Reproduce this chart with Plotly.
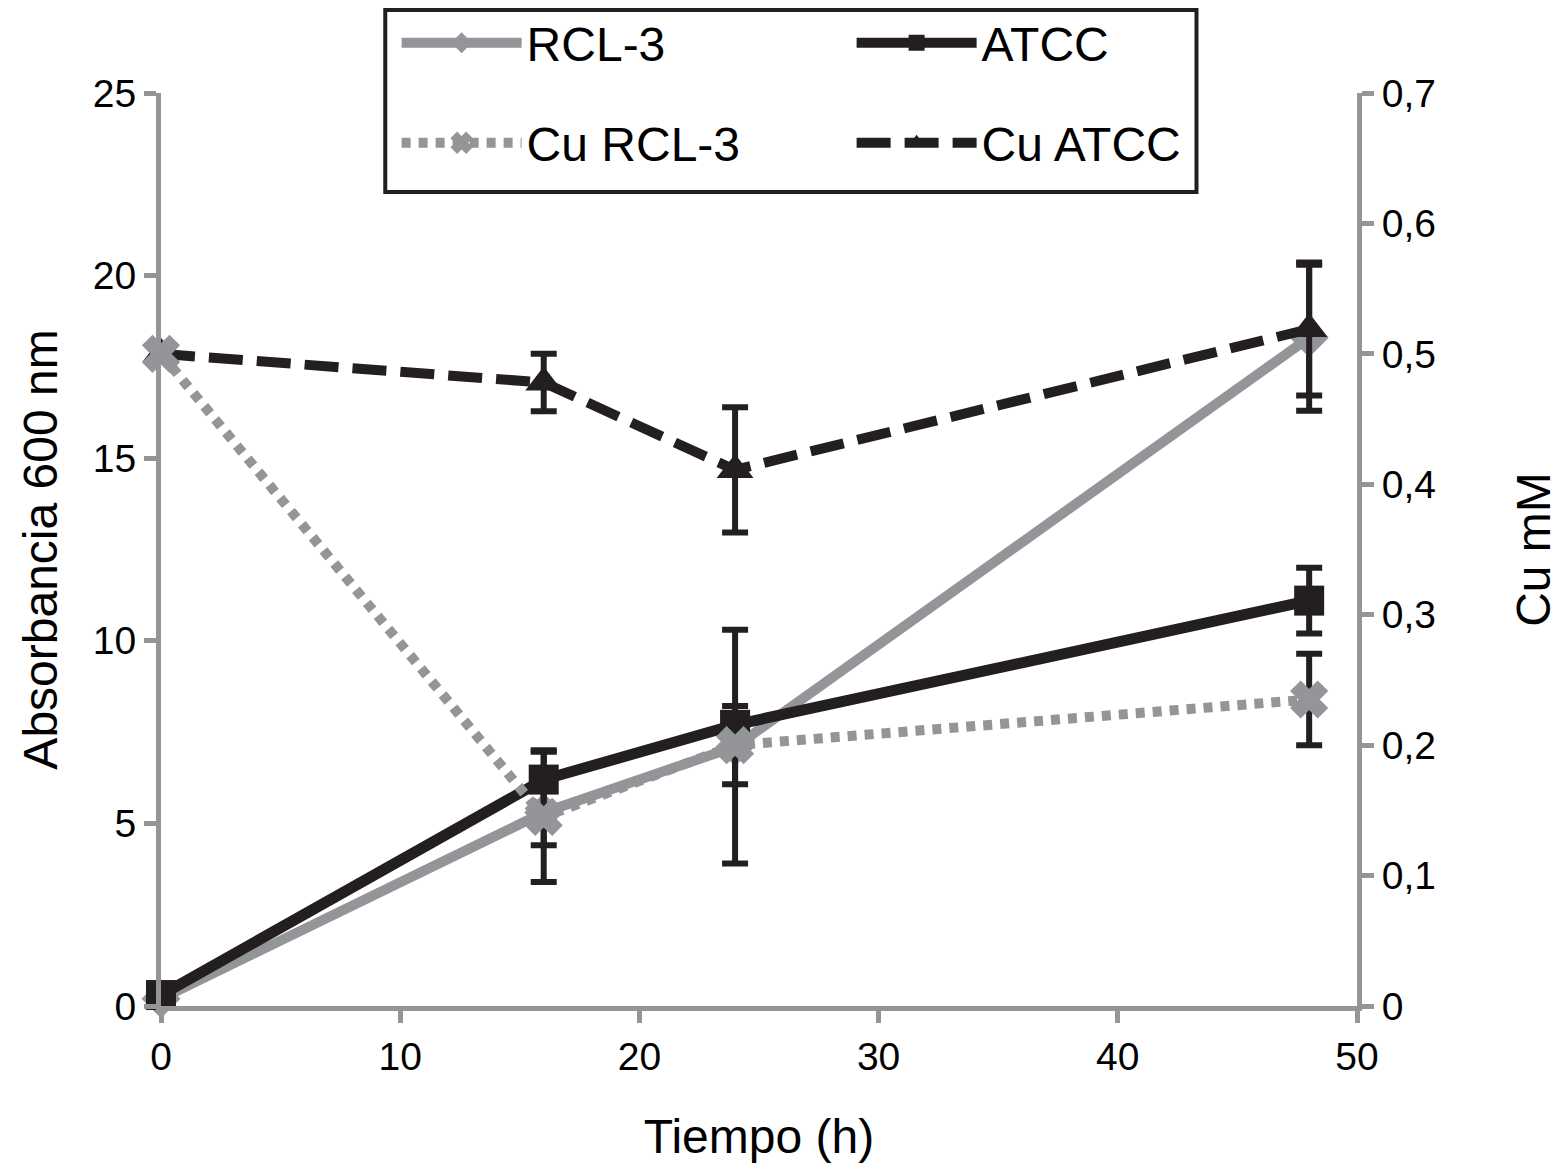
import plotly.graph_objects as go

# tiempo (h)
tiempo = [0, 16, 24, 48]

# absorbancia 600 nm
rcl3 = [0.2, 5.3, 7.1, 18.3]
rcl3_err = [0.0, 0.9, 3.2, 2.0]
atcc = [0.3, 6.2, 7.7, 11.1]
atcc_err = [0.0, 0.8, 0.15, 0.9]

# Cu mM
cu_rcl3 = [0.50, 0.145, 0.20, 0.235]
cu_rcl3_err = [0.0, 0.05, 0.03, 0.035]
cu_atcc = [0.50, 0.478, 0.411, 0.519]
cu_atcc_err = [0.0, 0.022, 0.048, 0.051]

GRIS = "#939598"
NEGRO = "#231f20"
FUENTE = "Liberation Sans, Arial, sans-serif"

barras = dict(type="data", color=NEGRO, thickness=6, width=13)

fig = go.Figure()

fig.add_trace(go.Scatter(
    x=tiempo, y=rcl3, name="RCL-3", mode="lines+markers",
    line=dict(color=GRIS, width=10),
    marker=dict(symbol="diamond", size=30, color=GRIS),
    error_y=dict(array=rcl3_err, **barras),
    cliponaxis=False, legend="legend"))

fig.add_trace(go.Scatter(
    x=tiempo, y=atcc, name="ATCC", mode="lines+markers",
    line=dict(color=NEGRO, width=11),
    marker=dict(symbol="square", size=30, color=NEGRO),
    error_y=dict(array=atcc_err, **barras),
    cliponaxis=False, legend="legend"))

fig.add_trace(go.Scatter(
    x=tiempo, y=cu_atcc, name="Cu ATCC", mode="lines+markers", yaxis="y2",
    line=dict(color=NEGRO, width=10, dash="34px,14px"),
    marker=dict(symbol="triangle-up", size=32, color=NEGRO),
    error_y=dict(array=cu_atcc_err, **barras),
    cliponaxis=False, legend="legend2", legendrank=2))

fig.add_trace(go.Scatter(
    x=tiempo, y=cu_rcl3, name="Cu RCL-3", mode="lines+markers", yaxis="y2",
    line=dict(color=GRIS, width=10, dash="9px,8px"),
    marker=dict(symbol="x", size=30, color=GRIS, line=dict(color=GRIS, width=3)),
    error_y=dict(array=cu_rcl3_err, **barras),
    cliponaxis=False, legend="legend2", legendrank=1))

ejes = dict(showgrid=False, zeroline=False, showline=True, linecolor=GRIS, linewidth=5,
            ticks="outside", ticklen=12, tickwidth=5, tickcolor=GRIS,
            tickfont=dict(size=39, color="black", family=FUENTE))

leyenda = dict(orientation="h", xanchor="left", yanchor="middle", x=0.197,
               font=dict(size=48, color="black", family=FUENTE),
               bgcolor="rgba(0,0,0,0)", itemwidth=120, entrywidth=320,
               traceorder="normal")

fig.update_layout(
    width=1564, height=1165,
    margin=dict(l=153, r=215, t=85, b=167, autoexpand=False),
    paper_bgcolor="white", plot_bgcolor="white",
    separators=",.",
    font=dict(family=FUENTE, color="black"),
    xaxis=dict(range=[0, 50], dtick=10,
               title=dict(text="Tiempo (h)", font=dict(size=48), standoff=44), **ejes),
    yaxis=dict(range=[0, 25], dtick=5,
               title=dict(text="Absorbancia 600 nm", font=dict(size=48), standoff=22), **ejes),
    yaxis2=dict(range=[0, 0.7], dtick=0.1, overlaying="y", side="right",
                title=dict(text="Cu mM", font=dict(size=48), standoff=83), **ejes),
    legend=dict(y=1.0547, **leyenda),
    legend2=dict(y=0.9452, **leyenda),
    shapes=[dict(type="rect", xref="paper", yref="paper",
                 x0=0.1875, x1=0.8658, y0=0.8916, y1=1.0909,
                 line=dict(color=NEGRO, width=4), fillcolor="white", layer="below")],
)

fig.write_html("out.html")
